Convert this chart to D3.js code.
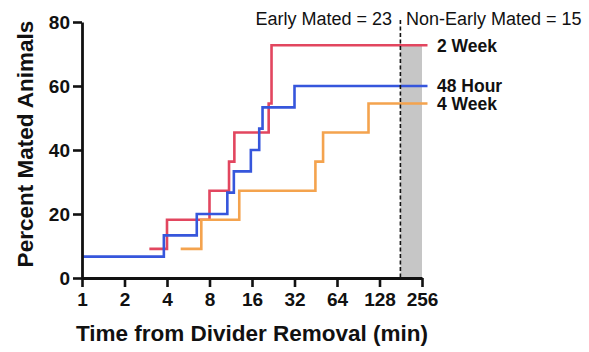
<!DOCTYPE html>
<html><head><meta charset="utf-8">
<script src="https://cdn.jsdelivr.net/npm/d3@7"></script>
<style>
body{margin:0;background:#fff;}
text{font-family:"Liberation Sans",Arial,Helvetica,sans-serif;}
</style></head>
<body><svg id="c" width="589" height="352"></svg>
<script>
const xTicks = [1, 2, 4, 8, 16, 32, 64, 128, 256];
const yTicks = [0, 20, 40, 60, 80];
const seriesNames = ["2 Week", "48 Hour", "4 Week"];
const seriesColors = ["#e2465f", "#3656dc", "#f4a34e"];
const week2Times = [3, 4, 8, 11, 12, 21, 22, 280];
const week2Values = [9.09, 18.18, 27.27, 36.36, 45.45, 54.55, 72.73, 72.73];
const hour48Times = [1, 3.8, 6.5, 10.7, 11.9, 15.7, 18, 19, 32, 280];
const hour48Values = [6.67, 13.33, 20, 26.67, 33.33, 40, 46.67, 53.33, 60, 60];
const week4Times = [5, 7, 13, 45, 51, 107, 280];
const week4Values = [9.09, 18.18, 27.27, 36.36, 45.45, 54.55, 54.55];
const cutoffTime = 180;
const axisMaxTime = 256;
const annotLeft = "Early Mated = 23";
const annotRight = "Non-Early Mated = 15";

const svg = d3.select("#c");
const x = d3.scaleLog().base(2).domain([1, 256]).range([82, 422]);
const y = d3.scaleLinear().domain([0, 80]).range([278, 22]);

// grey region after cutoff
svg.append("rect")
  .attr("x", x(cutoffTime)).attr("width", x(axisMaxTime) - x(cutoffTime))
  .attr("y", y(week2Values[week2Values.length - 1])).attr("height", y(0) - y(week2Values[week2Values.length - 1]))
  .attr("fill", "#c6c6c6");

const series = [
  {t: week2Times, v: week2Values},
  {t: hour48Times, v: hour48Values},
  {t: week4Times, v: week4Values}
];
const line = d3.line().x(d => x(d[0])).y(d => y(d[1])).curve(d3.curveStepAfter);
series.forEach((s, i) => {
  const pts = s.t.map((t, j) => [t, s.v[j]]);
  svg.append("path").attr("d", line(pts)).attr("fill", "none")
    .attr("stroke", seriesColors[i]).attr("stroke-width", 2.6);
});

// dashed cutoff line
svg.append("line").attr("x1", x(cutoffTime)).attr("x2", x(cutoffTime))
  .attr("y1", 20).attr("y2", y(0))
  .attr("stroke", "#111").attr("stroke-width", 1.6).attr("stroke-dasharray", "4,2.5");

// axes
const xAxis = svg.append("g").attr("transform", `translate(0,${y(0)})`)
  .call(d3.axisBottom(x).tickValues(xTicks).tickFormat(d3.format("d")).tickSize(9).tickPadding(6).tickSizeOuter(0));
const yAxis = svg.append("g").attr("transform", `translate(${x(1)},0)`)
  .call(d3.axisLeft(y).tickValues(yTicks).tickSize(9).tickPadding(3).tickSizeOuter(0));
[xAxis, yAxis].forEach(g => {
  g.select(".domain").attr("stroke", "#111").attr("stroke-width", 2.8);
  g.selectAll(".tick line").attr("stroke", "#111").attr("stroke-width", 2.6);
  g.selectAll(".tick text").attr("fill", "#111").style("font-size", "19px").style("font-weight", "bold")
    .style("font-family", '"Liberation Sans",Arial,sans-serif');
});

// series labels
series.forEach((s, i) => {
  svg.append("text").attr("x", 437).attr("y", y(s.v[s.v.length - 1])).attr("dy", "0.36em")
    .style("font-size", "17.5px").style("font-weight", "bold").attr("fill", "#111").text(seriesNames[i]);
});

// annotations
svg.append("text").attr("x", 392).attr("y", 25).attr("text-anchor", "end")
  .style("font-size", "18px").attr("fill", "#111").text(annotLeft);
svg.append("text").attr("x", 406).attr("y", 25)
  .style("font-size", "18px").attr("fill", "#111").text(annotRight);

// axis titles
svg.append("text").attr("x", 252).attr("y", 341).attr("text-anchor", "middle")
  .style("font-size", "22.5px").style("font-weight", "bold").attr("fill", "#111")
  .text("Time from Divider Removal (min)");
svg.append("text").attr("transform", "translate(33,144) rotate(-90)").attr("text-anchor", "middle")
  .style("font-size", "22.5px").style("font-weight", "bold").attr("fill", "#111")
  .text("Percent Mated Animals");
</script></body></html>
